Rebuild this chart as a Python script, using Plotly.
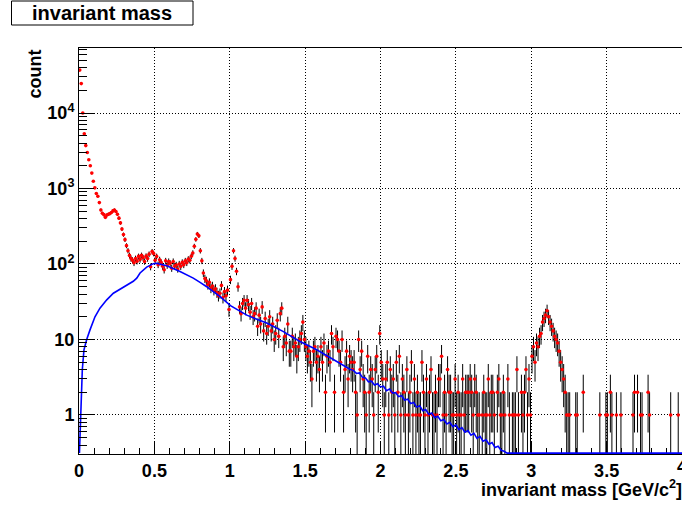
import numpy as np
import plotly.graph_objects as go

# Pair invariant-mass spectrum, 10 MeV bins from 0 to 4 GeV/c^2
bin_width = 0.01
counts = [
    37000, 24500, 10000, 5300, 3700, 3000, 2400, 2000, 1600, 1250,   # 0.0 - 0.1
    1020, 860, 790, 650, 520, 470, 450, 415, 445, 455,               # 0.1 - 0.2
    465, 480, 505, 520, 495, 455, 405, 350, 290, 245,                # 0.2 - 0.3
    210, 175, 150, 130, 118, 112, 104, 118, 109, 126,                # 0.3 - 0.4
    115, 130, 121, 108, 127, 118, 135, 92, 146, 138,                 # 0.4 - 0.5
    112, 126, 98, 114, 105, 93, 84, 110, 96, 108,                    # 0.5 - 0.6
    102, 88, 108, 94, 97, 86, 100, 93, 105, 98,                      # 0.6 - 0.7
    110, 104, 116, 112, 127, 140, 172, 212, 250, 236,                # 0.7 - 0.8
    150, 110, 76, 64, 60, 53, 57, 48, 51, 45,                        # 0.8 - 0.9
    47, 42, 38, 41, 52, 36, 43, 38, 45, 25,                          # 0.9 - 1.0
    62, 93, 150, 118, 80, 50, 27, 22, 30, 33,                        # 1.0 - 1.1
    26, 33, 29, 23, 30, 20, 22, 26, 15, 21,                          # 1.1 - 1.2
    16, 27, 13, 19, 12, 15, 20, 13, 16, 10,                          # 1.2 - 1.3
    12, 18, 11, 22, 26, 8, 11, 9, 16, 7,                             # 1.3 - 1.4
    7, 11, 8, 9, 6, 8, 10, 12, 17, 10,                               # 1.4 - 1.5
    8, 6, 7, 5, 3, 7, 8, 5, 6, 4,                                    # 1.5 - 1.6
    8, 5, 9, 2, 6, 7, 5, 12, 8, 2,                                   # 1.6 - 1.7
    11, 10, 7, 5, 10, 2, 4, 7, 3, 6,                                 # 1.7 - 1.8
    5, 4, 5, 2, 1, 10, 4, 7, 3, 2,                                   # 1.8 - 1.9
    1, 6, 2, 4, 3, 1, 4, 6, 2, 12,                                   # 1.9 - 2.0
    5, 3, 1, 3, 5, 1, 4, 2, 3, 1,                                    # 2.0 - 2.1
    5, 2, 6, 1, 3, 2, 1, 4, 1, 2,                                    # 2.1 - 2.2
    5, 1, 3, 1, 2, 1, 1, 5, 2, 1,                                    # 2.2 - 2.3
    3, 1, 2, 4, 1, 1, 2, 1, 3, 3,                                    # 2.3 - 2.4
    6, 1, 2, 1, 4, 2, 2, 1, 1, 3,                                    # 2.4 - 2.5
    1, 2, 1, 1, 3, 1, 2, 2, 2, 3,                                    # 2.5 - 2.6
    2, 1, 3, 2, 1, 1, 0, 1, 2, 1,                                    # 2.6 - 2.7
    1, 3, 1, 2, 2, 1, 0, 2, 3, 1,                                    # 2.7 - 2.8
    1, 2, 1, 0, 3, 1, 0, 1, 1, 1,                                    # 2.8 - 2.9
    4, 1, 0, 2, 1, 2, 4, 1, 3, 1,                                    # 2.9 - 3.0
    6, 8, 5, 9, 8, 11, 12, 17, 19, 21,                               # 3.0 - 3.1
    24, 20, 17, 15, 13, 11, 10, 9, 7, 5,                             # 3.1 - 3.2
    4, 3, 2, 1, 1, 1, 0, 0, 0, 1,                                    # 3.2 - 3.3
    1, 0, 0, 0, 2, 0, 0, 0, 0, 0,                                    # 3.3 - 3.4
    0, 0, 0, 0, 0, 1, 0, 0, 0, 1,                                    # 3.4 - 3.5
    1, 0, 2, 1, 0, 0, 1, 0, 0, 1,                                    # 3.5 - 3.6
    0, 0, 0, 0, 0, 0, 0, 1, 2, 0,                                    # 3.6 - 3.7
    2, 0, 1, 1, 0, 0, 0, 2, 1, 0,                                    # 3.7 - 3.8
    0, 0, 0, 0, 0, 0, 0, 0, 0, 0,                                    # 3.8 - 3.9
    0, 0, 1, 0, 0, 0, 0, 1, 0, 0,                                    # 3.9 - 4.0
]

# Reference (cocktail) curve
ref_mass = [
    0.003, 0.007, 0.013, 0.022, 0.033, 0.051, 0.073, 0.106, 0.139, 0.184,
    0.228, 0.272, 0.316, 0.36, 0.383, 0.405, 0.449, 0.493, 0.515, 0.582,
    0.67, 0.758, 0.803, 0.847, 0.936, 1.005, 1.113, 1.2, 1.245, 1.356,
    1.466, 1.577, 1.688, 1.8, 1.82, 1.84, 1.86, 1.88, 1.9, 1.92,
    1.94, 1.96, 1.98, 2.0, 2.02, 2.04, 2.06, 2.08, 2.1, 2.12,
    2.14, 2.16, 2.18, 2.2, 2.22, 2.24, 2.26, 2.28, 2.3, 2.32,
    2.34, 2.36, 2.38, 2.4, 2.42, 2.44, 2.46, 2.48, 2.5, 2.52,
    2.54, 2.56, 2.58, 2.6, 2.62, 2.64, 2.66, 2.68, 2.7, 2.72,
    2.74, 2.76, 2.78, 2.8, 2.82, 2.84, 2.86, 4.0,
]
ref_yield = [
    0.2, 0.52, 1.75, 4.0, 7.3, 10.0, 13.4, 20.0, 26.0, 33.5,
    41.0, 46.0, 52.6, 59.0, 65.0, 76.0, 91.0, 101.0, 102.0, 95.0,
    79.5, 65.0, 57.0, 50.0, 37.0, 28.0, 21.0, 18.0, 16.5, 12.7,
    9.4, 7.3, 5.4, 4.0, 3.9, 3.55, 3.6, 3.15, 3.1, 2.75,
    2.8, 2.5, 2.6, 2.35, 2.4, 2.1, 2.2, 1.95, 1.98, 1.75,
    1.8, 1.58, 1.62, 1.42, 1.46, 1.27, 1.32, 1.14, 1.18, 1.02,
    1.06, 0.92, 0.96, 0.84, 0.87, 0.76, 0.8, 0.7, 0.74, 0.64,
    0.68, 0.59, 0.62, 0.54, 0.57, 0.49, 0.52, 0.45, 0.47, 0.41,
    0.43, 0.37, 0.385, 0.34, 0.33, 0.305, 0.0, 0.0,
]

x_ticks = [0, 0.5, 1, 1.5, 2, 2.5, 3, 3.5, 4]
x_labels = ["0", "0.5", "1", "1.5", "2", "2.5", "3", "3.5", "4"]
y_ticks = [1, 10, 100, 1000, 10000]
y_labels = ["1", "10", "10<sup>2</sup>", "10<sup>3</sup>", "10<sup>4</sup>"]

LOG_MIN, LOG_MAX = -0.517, 4.861
# curve values below the frame are drawn just on the frame's lower edge
y_floor = 10 ** (LOG_MIN + 0.012)

counts_arr = np.array(counts, dtype=float)
centers = np.round(np.arange(len(counts_arr)) * bin_width + bin_width / 2, 4)
errors = np.sqrt(counts_arr)
y_plot = [c if c > 0 else None for c in counts_arr]

ref_plot = np.maximum(np.array(ref_yield), y_floor)

FONT = "Liberation Sans, Arial, Helvetica, sans-serif"
TICKFONT = dict(family=FONT, size=18, color="black", weight="bold")

fig = go.Figure()
fig.add_trace(go.Scatter(
    x=centers, y=y_plot, mode="markers",
    marker=dict(color="#ff0000", size=3.6, line=dict(width=0)),
    error_y=dict(type="data", array=errors, color="black", thickness=1, width=0),
    showlegend=False,
))
fig.add_trace(go.Scatter(
    x=ref_mass, y=ref_plot, mode="lines",
    line=dict(color="#0000ff", width=1.6),
    showlegend=False,
))

minor_x = [round(0.1 * k, 2) for k in range(1, 40) if k % 5 != 0]
minor_y = [m * 10 ** d for d in range(-1, 5) for m in range(2, 10)
           if LOG_MIN < np.log10(m * 10 ** d) < LOG_MAX]

W, H = 682, 507
L, R, T, B = 79, 0, 48, 53
pw, ph = W - L - R, H - T - B


def px(xp):
    return (xp - L) / pw


def py(yp):
    return (H - B - yp) / ph


fig.update_layout(
    width=W, height=H,
    margin=dict(l=L, r=R, t=T, b=B, pad=0),
    paper_bgcolor="white", plot_bgcolor="white",
    font=dict(family=FONT, color="black"),
    xaxis=dict(
        range=[0, 4], tickmode="array", tickvals=x_ticks, ticktext=x_labels,
        ticks="inside", ticklen=12, tickwidth=1, tickcolor="black",
        showline=True, linecolor="black", linewidth=1, mirror=True,
        showgrid=True, gridcolor="black", gridwidth=1, griddash="1px,2px",
        zeroline=False, layer="below traces",
        tickfont=TICKFONT,
        minor=dict(tickvals=minor_x, ticks="inside", ticklen=6,
                   tickcolor="black", tickwidth=1, showgrid=False),
    ),
    yaxis=dict(
        type="log", range=[LOG_MIN, LOG_MAX], tickmode="array",
        tickvals=y_ticks, ticktext=y_labels,
        ticks="inside", ticklen=15, tickwidth=1, tickcolor="black",
        showline=True, linecolor="black", linewidth=1, mirror=True,
        showgrid=True, gridcolor="black", gridwidth=1, griddash="1px,2px",
        zeroline=False,
        tickfont=TICKFONT,
        minor=dict(tickvals=minor_y, ticks="inside", ticklen=8,
                   tickcolor="black", tickwidth=1, showgrid=False),
    ),
    shapes=[dict(
        type="rect", xref="paper", yref="paper",
        x0=px(11.5), x1=px(193), y0=py(25), y1=py(1),
        line=dict(color="black", width=1), fillcolor="white", layer="above",
    )],
    annotations=[
        dict(text="invariant mass", xref="paper", yref="paper",
             x=px(102), y=py(13), xanchor="center", yanchor="middle",
             showarrow=False,
             font=dict(family=FONT, size=20, color="black", weight="bold")),
        dict(text="count", xref="paper", yref="paper",
             x=px(34), y=py(48), xanchor="center", yanchor="top",
             textangle=-90, showarrow=False,
             font=dict(family=FONT, size=18, color="black", weight="bold")),
        dict(text="invariant mass [GeV/c<sup>2</sup>]", xref="paper", yref="paper",
             x=px(684), y=py(488), xanchor="right", yanchor="middle",
             showarrow=False,
             font=dict(family=FONT, size=18, color="black", weight="bold")),
        # last x label sits on the right edge of the frame
        dict(text=x_labels[-1], xref="x", yref="paper",
             x=x_ticks[-1], y=py(467), xanchor="center", yanchor="middle",
             showarrow=False, font=TICKFONT),
    ],
)

fig.write_html("out.html")
